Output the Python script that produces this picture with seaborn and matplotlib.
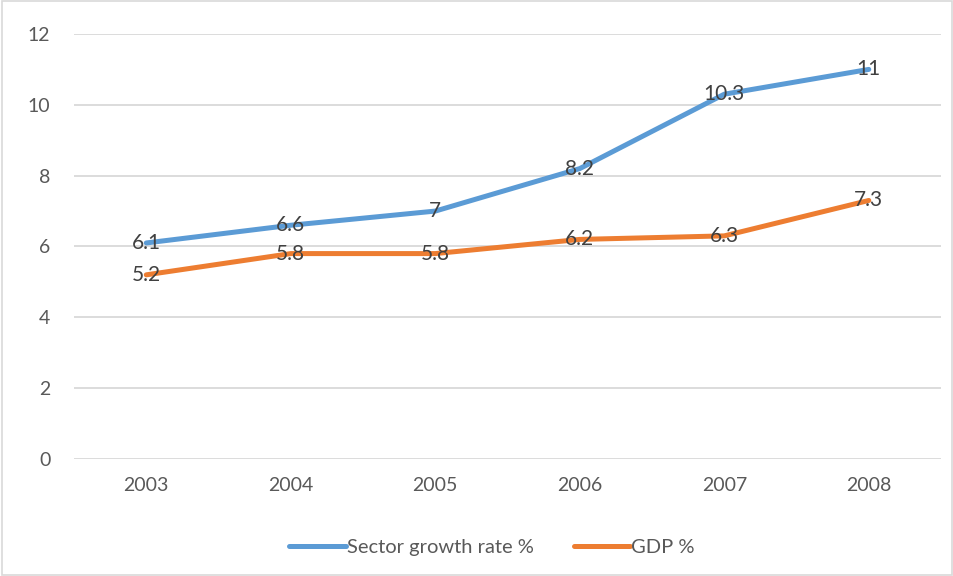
import pandas as pd
import matplotlib.pyplot as plt
import seaborn as sns

# Chart data
years = ["2003", "2004", "2005", "2006", "2007", "2008"]
sector_growth = [6.1, 6.6, 7, 8.2, 10.3, 11]
gdp = [5.2, 5.8, 5.8, 6.2, 6.3, 7.3]
series_names = ["Sector growth rate %", "GDP %"]
colors = ["#5B9BD5", "#ED7D31"]

df = pd.DataFrame({
    "Year": years * 2,
    "Value": sector_growth + gdp,
    "Series": [series_names[0]] * len(years) + [series_names[1]] * len(years),
})

sns.set_style("white")
plt.rcParams["font.family"] = ["Lato", "DejaVu Sans"]

fig = plt.figure(figsize=(9.54, 5.76), dpi=100)
ax = fig.add_axes([0.0776, 0.2031, 0.9088, 0.7379])

sns.lineplot(data=df, x="Year", y="Value", hue="Series", palette=colors,
             linewidth=3.6, ax=ax, legend=True, solid_capstyle="round")

# data labels centred on the points
for vals in [sector_growth, gdp]:
    for i, v in enumerate(vals):
        ax.text(i, v, f"{v:g}", ha="center", va="center", fontsize=15, color="#404040")

ax.set_xlim(-0.5, 5.5)
ax.set_ylim(0, 12)
ax.set_yticks(range(0, 13, 2))
ax.grid(axis="y", color="#D9D9D9", linewidth=1.3)
ax.set_axisbelow(True)
for s in ax.spines.values():
    s.set_visible(False)
ax.tick_params(axis="both", length=0, labelsize=14, colors="#595959")
ax.tick_params(axis="y", pad=17)
ax.tick_params(axis="x", pad=13)
ax.set_xlabel("")
ax.set_ylabel("")

ax.legend(loc="upper center", bbox_to_anchor=(0.482, -0.145), ncol=2, frameon=False,
          fontsize=14.5, labelcolor="#595959", handlelength=2.8, handletextpad=0.05,
          columnspacing=2.0)

# light border around the chart
fig.patches.append(plt.Rectangle((0.002, 0.002), 0.996, 0.996, transform=fig.transFigure,
                                 fill=False, edgecolor="#D9D9D9", linewidth=1.2))

fig.savefig("out.png", dpi=100)
